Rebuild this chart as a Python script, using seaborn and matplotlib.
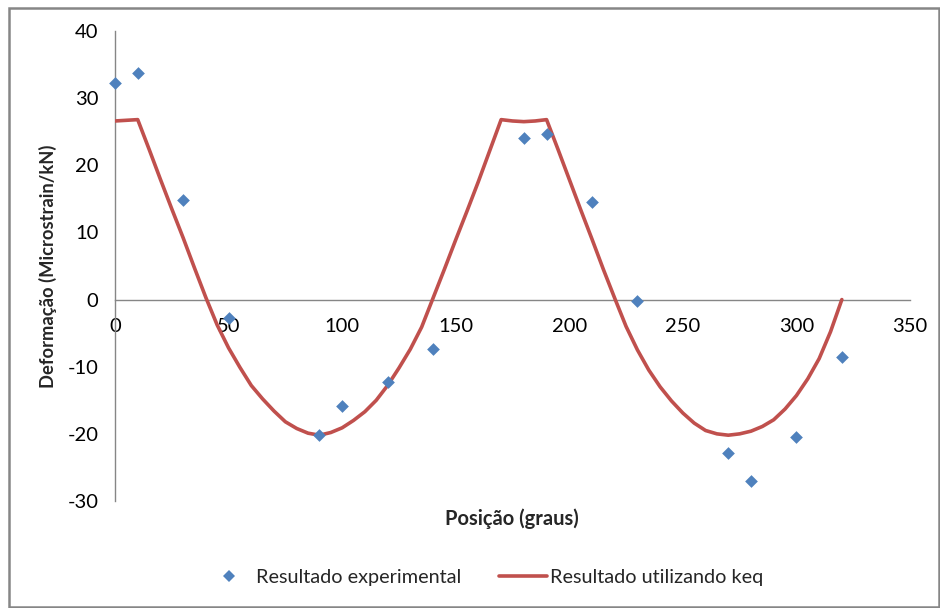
import matplotlib
matplotlib.use("Agg")
import matplotlib.pyplot as plt
import seaborn as sns
import pandas as pd
from matplotlib.patches import Rectangle
from matplotlib.lines import Line2D

# Experimental points
exp_pos = [0, 10, 30, 50, 90, 100, 120, 140, 180, 190, 210, 230, 270, 280, 300, 320]
exp_val = [32.2, 33.8, 14.8, -2.7, -20.2, -15.9, -12.3, -7.3, 24.0, 24.6, 14.6, -0.2, -22.9, -27.0, -20.5, -8.6]

# Model curve (Resultado utilizando keq)
keq_pos = [0, 5, 10, 15, 20, 25, 30, 35, 40, 45, 50, 55, 60, 65, 70, 75, 80, 85, 90,
           95, 100, 105, 110, 115, 120, 125, 130, 135, 140, 145, 150, 155, 160, 165, 170,
           175, 180, 185, 190, 195, 200, 205, 210, 215, 220, 225, 230, 235, 240, 245, 250,
           255, 260, 265, 270, 275, 280, 285, 290, 295, 300, 305, 310, 315, 320]
keq_val = [26.6, 26.7, 26.8, 22.4, 17.9, 13.5, 9.2, 4.7, 0.3, -3.8, -7.2, -10.1, -12.8, -14.8,
           -16.6, -18.2, -19.2, -19.9, -20.2, -19.8, -19.1, -18.0, -16.7, -15.0, -12.8, -10.2,
           -7.4, -4.1, 0.2, 4.5, 8.9, 13.2, 17.6, 22.2, 26.8, 26.6, 26.5, 26.6, 26.8, 22.4,
           17.9, 13.4, 9.0, 4.5, 0.2, -4.0, -7.5, -10.5, -13.0, -15.1, -16.9, -18.4, -19.5,
           -20.0, -20.2, -20.0, -19.6, -18.9, -17.9, -16.3, -14.3, -11.8, -8.8, -4.8, 0.0]

x_ticks = [0, 50, 100, 150, 200, 250, 300, 350]
y_ticks = [-30, -20, -10, 0, 10, 20, 30, 40]

label_exp = "Resultado experimental"
label_keq = "Resultado utilizando keq"
xlabel = "Posição (graus)"
ylabel = "Deformação (Microstrain/kN)"

sns.set_theme(style="white")
plt.rcParams["font.family"] = ["Lato", "DejaVu Sans"]

W, H = 940, 608
fig = plt.figure(figsize=(W / 100, H / 100), dpi=100)
ax = fig.add_axes([115 / W, 1 - 501 / H, (910 - 115) / W, (501 - 31) / H])

blue = "#4F81BD"
red = "#C0504D"
gray = "#868686"

df_exp = pd.DataFrame({"pos": exp_pos, "val": exp_val})
df_keq = pd.DataFrame({"pos": keq_pos, "val": keq_val})

sns.lineplot(data=df_keq, x="pos", y="val", color=red, linewidth=2.6, ax=ax,
             sort=False, zorder=3, legend=False, solid_joinstyle="round")
sns.scatterplot(data=df_exp, x="pos", y="val", marker="D", s=42, color=blue,
                linewidth=0, ax=ax, zorder=4, clip_on=False, legend=False)

ax.set_xlim(0, 350)
ax.set_ylim(-30, 40)
ax.set_xticks(x_ticks)
ax.set_yticks(y_ticks)
ax.set_xticklabels([str(t) for t in x_ticks])
ax.set_yticklabels([str(t) for t in y_ticks])

for s in ["top", "right"]:
    ax.spines[s].set_visible(False)
ax.spines["bottom"].set_position(("data", 0))
for s in ["left", "bottom"]:
    ax.spines[s].set_color(gray)
    ax.spines[s].set_linewidth(1.0)

ax.tick_params(axis="both", which="major", direction="out", length=5, width=1.0,
               color=gray, labelsize=14.5, labelcolor="#000000")
ax.tick_params(axis="y", pad=7)
ax.tick_params(axis="x", pad=8)
ax.grid(False)

ax.set_xlabel("")
ax.set_ylabel("")
fig.text(512 / W, 1 - 519 / H, xlabel, ha="center", va="center",
         fontsize=14.5, fontweight="bold")
fig.text(48 / W, 1 - 266 / H, ylabel, ha="center", va="center",
         rotation=90, fontsize=13.2, fontweight="bold")

handles = [
    Line2D([], [], marker="D", linestyle="none", color=blue, markersize=6.5,
           markeredgewidth=0),
    Line2D([], [], color=red, linewidth=2.6),
]
fig.legend(handles, [label_exp, label_keq], loc="center",
           bbox_to_anchor=(484 / W, 1 - 577 / H), ncol=2, frameon=False,
           fontsize=14.3, handlelength=2.4, handletextpad=0.15, columnspacing=1.9)

fig.patches.append(Rectangle((8.5 / W, 1.5 / H), (938.5 - 8.5) / W, (606.5 - 7.5) / H,
                             transform=fig.transFigure, fill=False,
                             edgecolor=gray, linewidth=1.8))

fig.savefig("out.png", dpi=100, facecolor="white")
